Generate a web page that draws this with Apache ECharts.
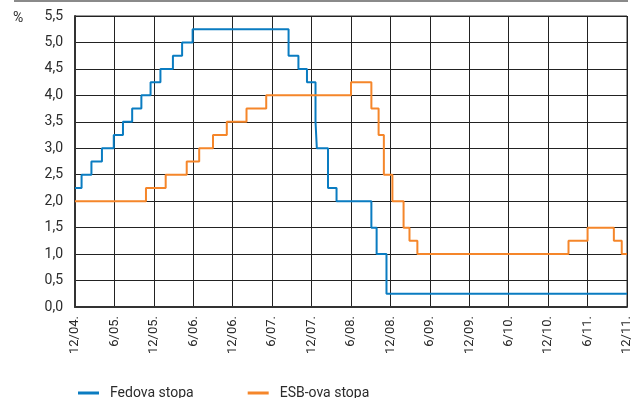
<!DOCTYPE html>
<html>
<head>
<meta charset="utf-8">
<script src="https://cdn.jsdelivr.net/npm/echarts@6/dist/echarts.min.js"></script>
<style>
  html, body { margin: 0; padding: 0; background: #fff; }
  #chart { width: 638px; height: 398px; }
</style>
</head>
<body>
<div id="chart"></div>
<script>
var myChart = echarts.init(document.getElementById("chart"));
const FONT = "Roboto, 'Liberation Sans', sans-serif";

// x = months after the 12/04. tick
const xTickLabels = [
  "12/04.", "6/05.", "12/05.", "6/06.", "12/06.", "6/07.", "12/07.", "6/08.",
  "12/08.", "6/09.", "12/09.", "6/10.", "12/10.", "6/11.", "12/11.",
];
const fedMonths = [
  0, 1.0, 2.5, 4.1, 5.9, 7.3, 8.7, 10.1, 11.5, 13.0, 14.9, 16.3, 17.9,
  32.5, 34.0, 35.3, 36.6, 36.8, 38.5, 39.8, 45.1, 45.9, 47.4, 84,
];
const fedRates = [
  2.25, 2.5, 2.75, 3.0, 3.25, 3.5, 3.75, 4.0, 4.25, 4.5, 4.75, 5.0, 5.25,
  4.75, 4.5, 4.25, 3.5, 3.0, 2.25, 2.0, 1.5, 1.0, 0.25, 0.25,
];
const ecbMonths = [
  0, 10.8, 13.8, 17.0, 18.9, 21.0, 23.1, 26.1, 29.1, 42.0, 45.1, 46.2,
  47.0, 48.3, 50.0, 50.9, 52.1, 75.1, 78.0, 82.0, 83.2, 84,
];
const ecbRates = [
  2.0, 2.25, 2.5, 2.75, 3.0, 3.25, 3.5, 3.75, 4.0, 4.25, 3.75, 3.25,
  2.5, 2.0, 1.5, 1.25, 1.0, 1.25, 1.5, 1.25, 1.0, 1.0,
];

const fedData = fedMonths.map((m, i) => [m, fedRates[i]]);
const ecbData = ecbMonths.map((m, i) => [m, ecbRates[i]]);

const option = {
  animation: false,
  textStyle: { fontFamily: FONT },
  grid: {
    left: 75,
    right: 11,
    top: 16,
    bottom: 91,
    show: true,
    borderColor: "#333",
    borderWidth: 1,
  },
  legend: {
    left: 73,
    top: 381,
    icon: "rect",
    itemWidth: 21,
    itemHeight: 3,
    itemGap: 54,
    textStyle: { fontSize: 14, color: "#2b2b2b", fontFamily: FONT, padding: [0, 0, 0, 6] },
    data: ["Fedova stopa", "ESB-ova stopa"],
  },
  xAxis: {
    type: "value",
    min: 0,
    max: 84,
    interval: 6,
    axisLine: { lineStyle: { color: "#333", width: 2 } },
    axisTick: { show: false },
    splitLine: { lineStyle: { color: "#222", width: 1 } },
    axisLabel: {
      rotate: 90,
      margin: 9,
      fontSize: 13,
      color: "#2b2b2b",
      fontFamily: FONT,
      formatter: (v) => xTickLabels[Math.round(v / 6)],
    },
  },
  yAxis: {
    type: "value",
    min: 0,
    max: 5.5,
    interval: 0.5,
    axisLine: { show: true, lineStyle: { color: "#333", width: 2 } },
    axisTick: { show: false },
    splitLine: { lineStyle: { color: "#222", width: 1 } },
    axisLabel: {
      margin: 12,
      fontSize: 14,
      color: "#2b2b2b",
      fontFamily: FONT,
      formatter: (v) => v.toFixed(1).replace(".", ","),
    },
  },
  graphic: [
    {
      type: "line",
      shape: { x1: 14, y1: 1, x2: 628, y2: 1 },
      style: { stroke: "#8a8a8a", lineWidth: 2 },
    },
    {
      type: "text",
      left: 13,
      top: 11,
      style: { text: "%", fontSize: 14, fill: "#2b2b2b", fontFamily: FONT },
    },
  ],
  series: [
    {
      name: "Fedova stopa",
      type: "line",
      step: "end",
      data: fedData,
      showSymbol: false,
      lineStyle: { color: "#0a7cc1", width: 2 },
      itemStyle: { color: "#0a7cc1" },
    },
    {
      name: "ESB-ova stopa",
      type: "line",
      step: "end",
      data: ecbData,
      showSymbol: false,
      lineStyle: { color: "#f5862a", width: 2 },
      itemStyle: { color: "#f5862a" },
    },
  ],
};

myChart.setOption(option);
</script>
</body>
</html>
